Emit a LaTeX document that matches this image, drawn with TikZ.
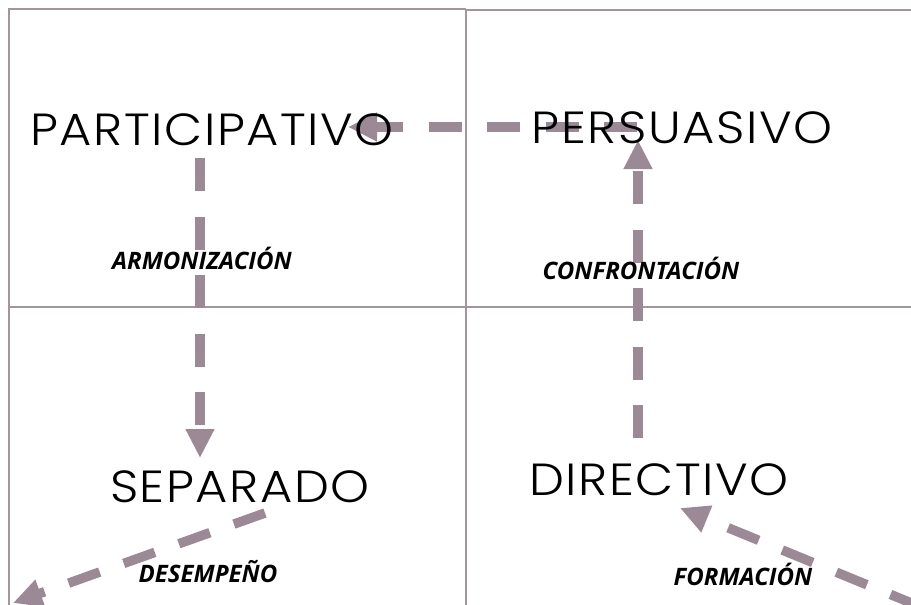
\documentclass[tikz,border=0pt]{standalone}
\usepackage{fontspec}
\usetikzlibrary{arrows.meta}
\newfontfamily\bigfont{Poppins Light}[FakeStretch=1.1,LetterSpace=3.5]
\newfontfamily\labfont{Open Sans}
\definecolor{gridc}{HTML}{A3949E}
\definecolor{arrc}{HTML}{9B8A96}
\tikzset{
  gridline/.style={draw=gridc, line width=2pt},
  flow/.style={draw=arrc, line width=9.5pt, dash pattern=on 33pt off 25.5pt,
    -{Triangle[length=29pt,width=27pt]}},
  bigtext/.style={anchor=base, inner sep=0pt, font=\bigfont\fontsize{45}{45}\selectfont, text=black},
  labtext/.style={inner sep=0pt, font=\labfont\bfseries\itshape\fontsize{24}{24}\selectfont, text=black}
}
\begin{document}
\begin{tikzpicture}[x=1pt,y=-1pt]
\useasboundingbox (0,0) rectangle (911,605);
\clip (0,0) rectangle (911,605);
\fill[white] (0,0) rectangle (911,605);
% grid
\draw[gridline] (9,605) -- (9,9) -- (466,9);
\draw[gridline] (466,10) -- (911,10);
\draw[gridline] (466,9) -- (466,605);
\draw[gridline] (9,307) -- (911,307);
% connector end points
\coordinate (a1s) at (200,158);
\coordinate (a1e) at (200,458);
\coordinate (a2s) at (638,438);
\coordinate (a2e) at (638,140);
\coordinate (a3s) at (637,127);
\coordinate (a3e) at (348,127);
\coordinate (a4s) at (265,513);
\coordinate (a4e) at (13,603);
\coordinate (a5s) at (921,607);
\coordinate (a5e) at (680,508);
% arrows
\draw[flow] (a1s) -- (a1e);
\draw[flow] (a2s) -- (a2e);
\draw[flow] (a3s) -- (a3e);
\draw[flow] (a4s) -- (a4e);
\draw[flow] (a5s) -- (a5e);
% texts
\node[bigtext] (part) at (212,145) {PARTICIPATIVO};
\node[bigtext] (pers) at (682,143) {PERSUASIVO};
\node[bigtext] (sep) at (240,502) {SEPARADO};
\node[bigtext] (dir) at (659,495) {DIRECTIVO};
\node[labtext] (arm) at (202,258) {ARMONIZACIÓN};
\node[labtext] (conf) at (641,268) {CONFRONTACIÓN};
\node[labtext] (des) at (208,572) {DESEMPEÑO};
\node[labtext] (form) at (743,574) {FORMACIÓN};
\end{tikzpicture}
\end{document}
